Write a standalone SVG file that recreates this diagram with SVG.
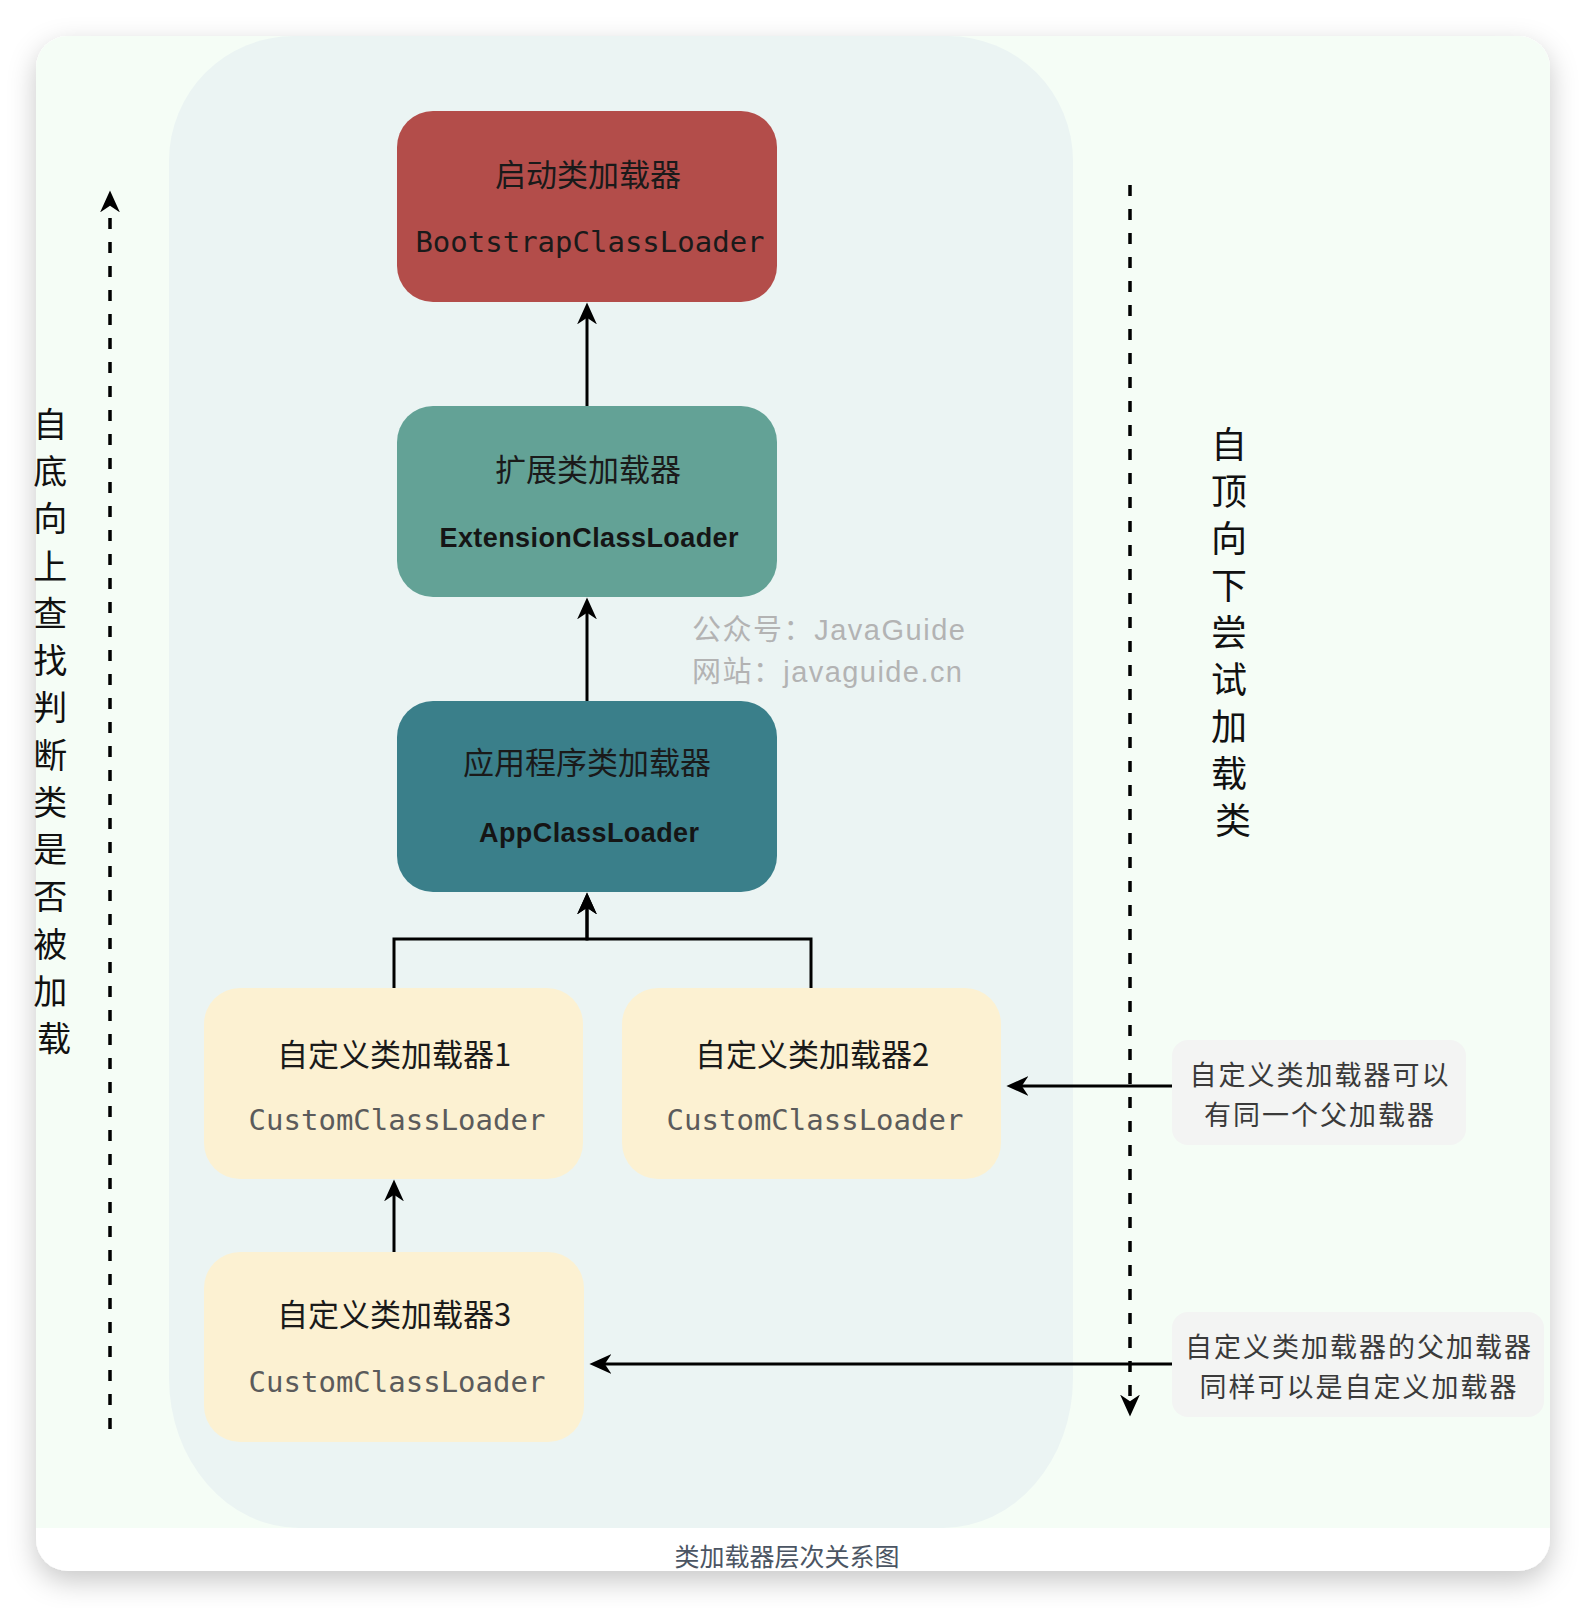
<svg xmlns="http://www.w3.org/2000/svg" width="1586" height="1608" viewBox="0 0 1586 1608">
  <style>
    .cjk { font-family: "Noto Sans CJK SC", "Liberation Sans", sans-serif; }
    .title { font-family: "Noto Sans CJK SC", sans-serif; font-size: 31px; font-weight: 400; fill: #1a1a1a; text-anchor: middle; dominant-baseline: central; }
    .mono { font-family: "DejaVu Sans Mono", "Liberation Mono", monospace; font-size: 29px; text-anchor: middle; dominant-baseline: central; }
    .sans { font-family: "Liberation Sans", "Noto Sans", sans-serif; font-size: 27px; font-weight: bold; fill: #151515; text-anchor: middle; dominant-baseline: central; }
    .vert { font-family: "Noto Sans CJK SC", sans-serif; font-weight: 400; fill: #111; text-anchor: middle; dominant-baseline: central; }
    .note { font-family: "Noto Sans CJK SC", sans-serif; font-size: 27px; letter-spacing: 2px; fill: #3a3a3a; text-anchor: middle; dominant-baseline: central; }
    .wm { font-family: "Liberation Sans", "Noto Sans CJK SC", sans-serif; font-size: 29px; fill: #b3b3b3; dominant-baseline: central; }
    .line { fill: none; stroke: #000; stroke-width: 3; }
    .dash { fill: none; stroke: #000; stroke-width: 3.5; stroke-dasharray: 11 13; }
  </style>
  <defs>
    <filter id="shadow" x="-10%" y="-10%" width="120%" height="120%">
      <feDropShadow dx="0" dy="10" stdDeviation="14" flood-color="#000" flood-opacity="0.22"/>
    </filter>
    <marker id="arrow" viewBox="0 0 20 20" refX="14" refY="10" markerWidth="22" markerHeight="22" markerUnits="userSpaceOnUse" orient="auto">
      <path d="M0,1 L20,10 L0,19 L6,10 z" fill="#000"/>
    </marker>
  </defs>

  <rect width="1586" height="1608" fill="#ffffff"/>

  <!-- card -->
  <g id="card">
    <rect x="36" y="36" width="1514" height="1535" rx="32" ry="32" fill="#ffffff" filter="url(#shadow)"/>
    <path d="M68,36 H1518 A32,32 0 0 1 1550,68 V1528 H36 V68 A32,32 0 0 1 68,36 Z" fill="#f5fdf6"/>
    <path d="M294,36 H948 A125,125 0 0 1 1073,161 V1378 A130,150 0 0 1 943,1528 H299 A130,150 0 0 1 169,1378 V161 A125,125 0 0 1 294,36 Z" fill="#ebf4f3"/>
    <text class="cjk" x="787" y="1555" font-size="25" fill="#4b5563" text-anchor="middle" dominant-baseline="central">类加载器层次关系图</text>
  </g>

  <!-- watermark -->
  <g id="watermark">
    <text class="wm" x="692" y="630" textLength="273">公众号：JavaGuide</text>
    <text class="wm" x="692" y="672" textLength="270">网站：javaguide.cn</text>
  </g>

  <!-- connectors -->
  <g id="connectors">
    <path class="line" d="M587,406 V309" marker-end="url(#arrow)"/>
    <path class="line" d="M587,701 V604" marker-end="url(#arrow)"/>
    <path class="line" d="M394,988 V939 H587 V899" marker-end="url(#arrow)"/>
    <path class="line" d="M811,988 V939 H587 V899" marker-end="url(#arrow)"/>
    <path class="line" d="M394,1252 V1186" marker-end="url(#arrow)"/>
    <path class="line" d="M1172,1086 H1013" marker-end="url(#arrow)"/>
    <path class="line" d="M1172,1364 H596" marker-end="url(#arrow)"/>
    <path class="dash" d="M110,1429 V197" marker-end="url(#arrow)"/>
    <path class="dash" d="M1130,185 V1410" marker-end="url(#arrow)"/>
  </g>

  <!-- nodes -->
  <g id="bootstrap">
    <rect x="397" y="111" width="380" height="191" rx="36" fill="#b34d4a"/>
    <text class="title" x="588" y="172">启动类加载器</text>
    <text class="mono" x="590" y="242" fill="#1a1a1a">BootstrapClassLoader</text>
  </g>
  <g id="extension">
    <rect x="397" y="406" width="380" height="191" rx="36" fill="#63a296"/>
    <text class="title" x="588" y="467">扩展类加载器</text>
    <text class="sans" x="589" y="538" textLength="299">ExtensionClassLoader</text>
  </g>
  <g id="app">
    <rect x="397" y="701" width="380" height="191" rx="36" fill="#3a7f8a"/>
    <text class="title" x="587" y="760">应用程序类加载器</text>
    <text class="sans" x="589" y="833" textLength="220">AppClassLoader</text>
  </g>
  <g id="custom1">
    <rect x="204" y="988" width="379" height="191" rx="36" fill="#fcf1d2"/>
    <text class="title" x="394" y="1052">自定义类加载器1</text>
    <text class="mono" x="397" y="1120" fill="#5b5b5b">CustomClassLoader</text>
  </g>
  <g id="custom2">
    <rect x="622" y="988" width="379" height="191" rx="36" fill="#fcf1d2"/>
    <text class="title" x="812" y="1052">自定义类加载器2</text>
    <text class="mono" x="815" y="1120" fill="#5b5b5b">CustomClassLoader</text>
  </g>
  <g id="custom3">
    <rect x="204" y="1252" width="380" height="190" rx="36" fill="#fcf1d2"/>
    <text class="title" x="394" y="1312">自定义类加载器3</text>
    <text class="mono" x="397" y="1382" fill="#5b5b5b">CustomClassLoader</text>
  </g>

  <g id="note1">
    <rect x="1172" y="1040" width="294" height="105" rx="16" fill="#f3f4f3"/>
    <text class="note" x="1320" y="1073">自定义类加载器可以</text>
    <text class="note" x="1320" y="1113">有同一个父加载器</text>
  </g>
  <g id="note2">
    <rect x="1172" y="1312" width="372" height="105" rx="16" fill="#f3f4f3"/>
    <text class="note" x="1359" y="1345">自定义类加载器的父加载器</text>
    <text class="note" x="1359" y="1385">同样可以是自定义加载器</text>
  </g>

  <g id="label-left">
    <text class="vert" font-size="34">
      <tspan x="54" y="422">自</tspan>
      <tspan x="54" y="469">底</tspan>
      <tspan x="54" y="516">向</tspan>
      <tspan x="54" y="564">上</tspan>
      <tspan x="54" y="611">查</tspan>
      <tspan x="54" y="658">找</tspan>
      <tspan x="54" y="705">判</tspan>
      <tspan x="54" y="753">断</tspan>
      <tspan x="54" y="800">类</tspan>
      <tspan x="54" y="847">是</tspan>
      <tspan x="54" y="894">否</tspan>
      <tspan x="54" y="942">被</tspan>
      <tspan x="54" y="989">加</tspan>
      <tspan x="54" y="1036">载</tspan>
    </text>
  </g>
  <g id="label-right">
    <text class="vert" font-size="36">
      <tspan x="1233" y="442">自</tspan>
      <tspan x="1233" y="489">顶</tspan>
      <tspan x="1233" y="536">向</tspan>
      <tspan x="1233" y="583">下</tspan>
      <tspan x="1233" y="630">尝</tspan>
      <tspan x="1233" y="677">试</tspan>
      <tspan x="1233" y="724">加</tspan>
      <tspan x="1233" y="771">载</tspan>
      <tspan x="1233" y="818">类</tspan>
    </text>
  </g>
</svg>
